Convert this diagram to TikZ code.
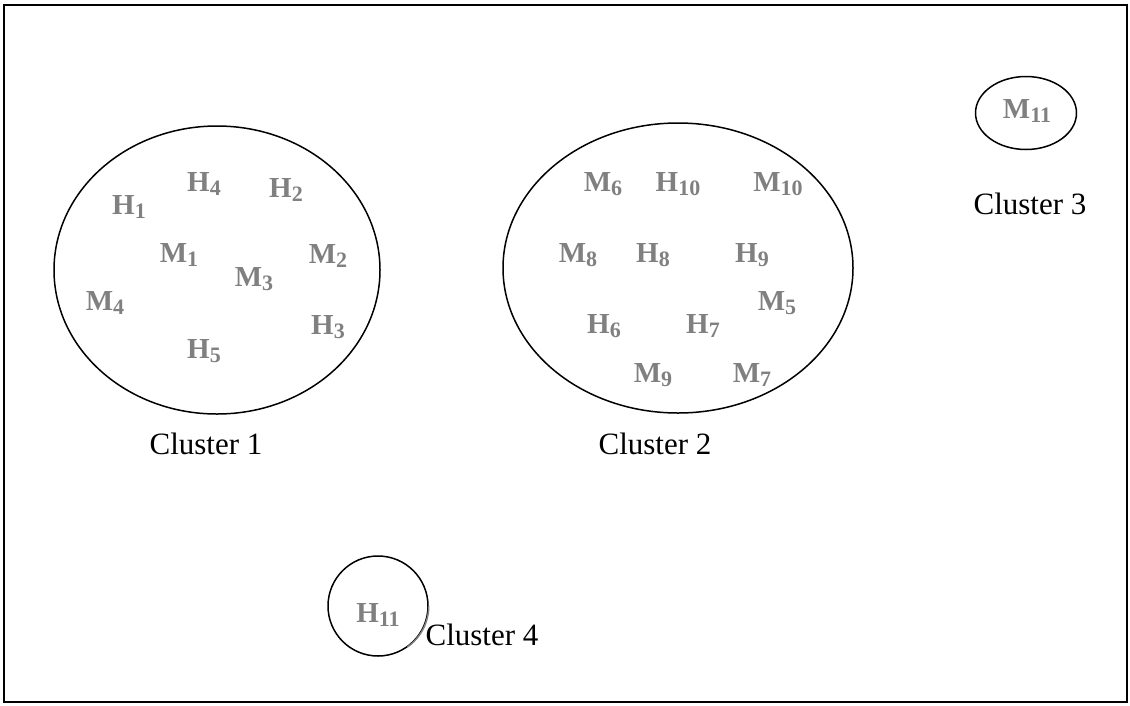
\documentclass[tikz,border=0pt]{standalone}
\usepackage{fontspec}
\setmainfont{Liberation Serif}
\usepackage{tikz}
\usepackage{xcolor}
\usetikzlibrary{shapes.geometric}
\definecolor{Gris}{RGB}{128,128,128}
\newcommand{\sbx}[1]{\raisebox{-4pt}{\fontsize{22}{22}\selectfont #1}}

\begin{document}
\begin{tikzpicture}[
  x=1pt, y=-1pt,
  grupo/.style={
    draw, ellipse, line width=1.5pt,
    inner sep=0pt
  },
  elem/.style={
    text=Gris, anchor=base, inner sep=0pt,
    font=\fontsize{29}{29}\selectfont\bfseries
  },
  nombre/.style={anchor=base, inner sep=0pt, font=\fontsize{31}{31}\selectfont}
]

\useasboundingbox (0,0) rectangle (1130,705);
\draw[line width=2pt] (4,5) rectangle (1127,702);

% Cluster 1
\node[grupo, minimum width=326pt, minimum height=288pt] (cl1) at (217,270) {};
\node[elem] (h1) at (129,214) {H\sbx{1}};
\node[elem] (h4) at (204,191) {H\sbx{4}};
\node[elem] (h2) at (286,197) {H\sbx{2}};
\node[elem] (m1) at (179,262) {M\sbx{1}};
\node[elem] (m2) at (328,263) {M\sbx{2}};
\node[elem] (m3) at (254,286) {M\sbx{3}};
\node[elem] (m4) at (105,310) {M\sbx{4}};
\node[elem] (h3) at (328,334) {H\sbx{3}};
\node[elem] (h5) at (204,358) {H\sbx{5}};
\node[nombre] (n1) at (206,454) {Cluster 1};

% Cluster 2
\node[grupo, minimum width=350pt, minimum height=290pt] (cl2) at (678,268) {};
\node[elem] (m6) at (603,191) {M\sbx{6}};
\node[elem] (h10) at (678,191) {H\sbx{10}};
\node[elem] (m10) at (778,191) {M\sbx{10}};
\node[elem] (m8) at (578,262) {M\sbx{8}};
\node[elem] (h8) at (653,262) {H\sbx{8}};
\node[elem] (h9) at (752,262) {H\sbx{9}};
\node[elem] (m5) at (777,310) {M\sbx{5}};
\node[elem] (h6) at (604,333) {H\sbx{6}};
\node[elem] (h7) at (703,333) {H\sbx{7}};
\node[elem] (m9) at (653,382) {M\sbx{9}};
\node[elem] (m7) at (752,382) {M\sbx{7}};
\node[nombre] (n2) at (655,454) {Cluster 2};

% Cluster 3
\node[grupo, minimum width=101pt, minimum height=73pt] (cl3) at (1026,113) {};
\node[elem] (m11) at (1027,118) {M\sbx{11}};
\node[nombre] (n3) at (1030,214) {Cluster 3};

% Cluster 4
\node[grupo, circle, minimum size=100pt] (cl4) at (378,606) {};
\draw[Gris, line width=1.5pt] (cl4.east) arc[start angle=0, end angle=-55, radius=50pt];
\node[elem] (h11) at (378,622) {H\sbx{11}};
\node[nombre] (n4) at (482,645) {Cluster 4};

\end{tikzpicture}
\end{document}
